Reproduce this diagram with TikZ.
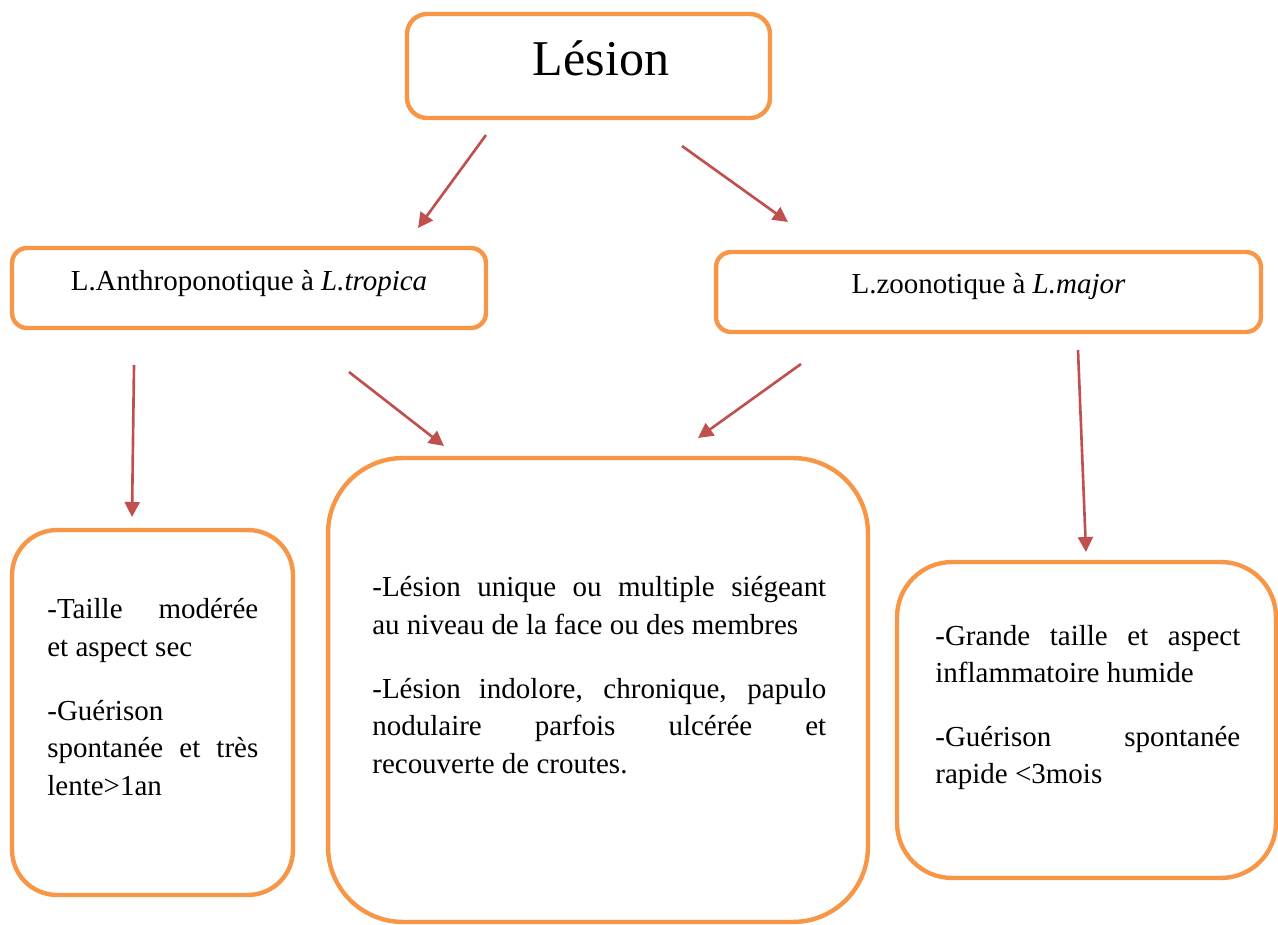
\documentclass[tikz,border=0pt]{standalone}
\usepackage{fontspec}
\setmainfont{Liberation Serif}
\usepackage{xcolor}
\usepackage{tikz}
\usetikzlibrary{arrows.meta}
\definecolor{boxorange}{RGB}{247,150,70}
\definecolor{arrowred}{RGB}{192,80,77}
\newcommand{\bodyfont}{\fontsize{16.5}{21.5}\selectfont}
\tikzstyle{box} = [draw=boxorange, line width=2.5pt, fill=white, inner sep=0pt]
\tikzstyle{arrow} = [-{Triangle[length=3mm, width=3mm]}, line width=1.5pt, draw=arrowred]
\tikzstyle{para} = [font=\bodyfont, align=justify, inner sep=0pt, anchor=base west]

\begin{document}
\begin{tikzpicture}[x=0.02cm, y=-0.02cm]
    \useasboundingbox (0,0) rectangle (1278,925);
    % boxes
    \node[box, rounded corners=0.4cm, minimum width=7.26cm, minimum height=2.08cm] (lesion) at (588.5,66) {};
    \node[box, rounded corners=0.3cm, minimum width=9.48cm, minimum height=1.6cm] (anthro) at (249,288) {};
    \node[box, rounded corners=0.3cm, minimum width=10.9cm, minimum height=1.6cm] (zoono) at (988.5,292) {};
    \node[box, rounded corners=0.9cm, minimum width=5.62cm, minimum height=7.3cm] (tropbox) at (152.5,712.5) {};
    \node[box, rounded corners=1.5cm, minimum width=10.8cm, minimum height=9.28cm] (commbox) at (598,690) {};
    \node[box, rounded corners=1.1cm, minimum width=7.58cm, minimum height=6.32cm] (majbox) at (1086.5,720) {};
    % texts
    \node[font=\fontsize{28.5}{32}\selectfont, anchor=base] (lesiontxt) at (601,76) {Lésion};
    \node[font=\bodyfont, anchor=base] (anthrotxt) at (249,291) {L.Anthroponotique à \textit{L.tropica}};
    \node[font=\bodyfont, anchor=base] (zoonotxt) at (988.5,294) {L.zoonotique à \textit{L.major}};
    \node[para, text width=4.22cm] (troptxt) at (47,619)
        {-Taille modérée\linebreak et aspect sec\\[14.5pt]
         -Guérison\\ spontanée et très\linebreak lente>1an};
    \node[para, text width=9.08cm] (commtxt) at (372,597)
        {-Lésion unique ou multiple siégeant\linebreak au niveau de la face ou des membres\\[14.5pt]
         -Lésion indolore, chronique, papulo\linebreak nodulaire parfois ulcérée et\linebreak recouverte de croutes.};
    \node[para, text width=6.1cm] (majtxt) at (935,645)
        {-Grande taille et aspect\linebreak inflammatoire humide\\[14.5pt]
         -Guérison spontanée\linebreak rapide <3mois};
    % arrow ends
    \coordinate (s1) at (486,135);  \coordinate (t1) at (418,228);
    \coordinate (s2) at (682,146);  \coordinate (t2) at (788,222);
    \coordinate (s3) at (134,365);  \coordinate (t3) at (132,517);
    \coordinate (s4) at (349,372);  \coordinate (t4) at (444,446);
    \coordinate (s5) at (801,364);  \coordinate (t5) at (698,438);
    \coordinate (s6) at (1078,350); \coordinate (t6) at (1086,552);
    \foreach \i in {1,...,6}
        \draw[arrow] (s\i) -- (t\i);
\end{tikzpicture}
\end{document}
